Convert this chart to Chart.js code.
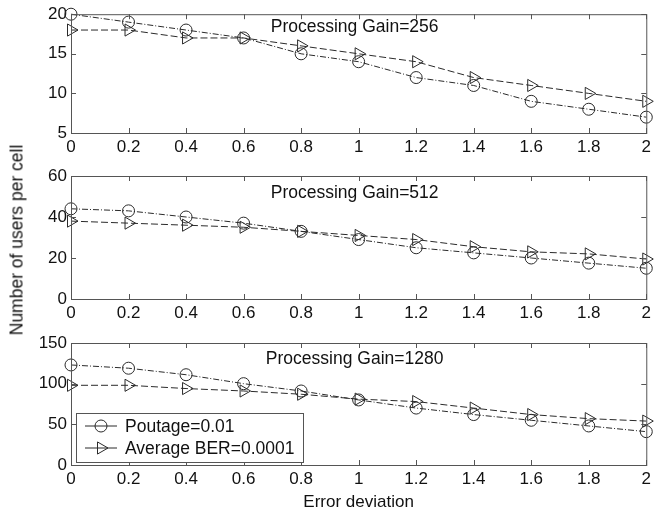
<!DOCTYPE html>
<html>
<head>
<meta charset="utf-8">
<script src="https://cdn.jsdelivr.net/npm/chart.js@4/dist/chart.umd.min.js"></script>
<style>
  body { margin: 0; background: #fff; }
  #wrap { position: relative; width: 655px; height: 515px; background: #fff; overflow: hidden; }
  .panel { position: absolute; left: 0; width: 655px; }
  #ytitle {
    position: absolute; left: 17px; top: 240px;
    transform: translate(-50%, -50%) rotate(-90deg);
    font: 17.5px "Liberation Sans", Arial, sans-serif; color: #111; white-space: nowrap;
  }
</style>
</head>
<body>
<div id="wrap">
  <div class="panel" style="top:0;height:160px"><canvas id="c1"></canvas></div>
  <div class="panel" style="top:160px;height:166px"><canvas id="c2"></canvas></div>
  <div class="panel" style="top:326px;height:189px"><canvas id="c3"></canvas></div>
  <div id="ytitle">Number of users per cell</div>
</div>
<script>
// error deviation (x axis)
const xLabels = ['0', '0.2', '0.4', '0.6', '0.8', '1', '1.2', '1.4', '1.6', '1.8', '2'];

// Processing Gain = 256
const pg256Poutage = [20, 19, 18, 17, 15, 14, 12, 11, 9, 8, 7];
const pg256Ber = [18, 18, 17, 17, 16, 15, 14, 12, 11, 10, 9];
// Processing Gain = 512
const pg512Poutage = [44, 43, 40, 37, 33, 29, 25, 22.5, 20, 17.5, 15];
const pg512Ber = [38, 37, 36, 35, 33, 31, 29, 25.5, 23, 22, 19.5];
// Processing Gain = 1280
const pg1280Poutage = [123, 119, 111, 100, 91, 80, 70, 62, 55, 48, 41];
const pg1280Ber = [98, 98, 94, 91, 87, 81, 78, 70, 62, 57, 54];

const seriesNames = ['Poutage=0.01', 'Average BER=0.0001'];
const panelTitles = ['Processing Gain=256', 'Processing Gain=512', 'Processing Gain=1280'];
const yRanges = [[5, 20, 5], [0, 60, 20], [0, 150, 50]];

const FONT = '"Liberation Sans", Arial, sans-serif';
const INK = '#2a2a2a';

// frame + inward ticks, like a matlab box
const framePlugin = {
  id: 'frame',
  afterDatasetsDraw(chart) {
    const ctx = chart.ctx, a = chart.chartArea;
    const xs = chart.scales.x, ys = chart.scales.y;
    ctx.save();
    ctx.strokeStyle = '#555';
    ctx.lineWidth = 1;
    ctx.strokeRect(a.left + 0.5, a.top + 0.5, a.right - a.left, a.bottom - a.top);
    ctx.beginPath();
    xs.ticks.forEach((t, i) => {
      const px = Math.round(xs.getPixelForTick(i)) + 0.5;
      ctx.moveTo(px, a.bottom); ctx.lineTo(px, a.bottom - 5);
      ctx.moveTo(px, a.top); ctx.lineTo(px, a.top + 5);
    });
    ys.ticks.forEach((t, i) => {
      const py = Math.round(ys.getPixelForTick(i)) + 0.5;
      ctx.moveTo(a.left, py); ctx.lineTo(a.left + 5, py);
      ctx.moveTo(a.right, py); ctx.lineTo(a.right - 5, py);
    });
    ctx.stroke();
    ctx.restore();
  },
  afterDraw(chart) {
    const opts = chart.options.plugins.frame;
    const ctx = chart.ctx, a = chart.chartArea;
    ctx.save();
    ctx.fillStyle = '#111';
    ctx.font = '17.5px ' + FONT;
    ctx.textAlign = 'center';
    ctx.textBaseline = 'middle';
    ctx.fillText(opts.title, (a.left + a.right) / 2 - 4, a.top + opts.titleOffset);

    if (opts.legend) {
      const bx = a.left + 5, by = a.top + 70, bw = 227, bh = 49;
      ctx.fillStyle = '#fff';
      ctx.fillRect(bx, by, bw, bh);
      ctx.strokeStyle = '#555';
      ctx.lineWidth = 1;
      ctx.strokeRect(bx + 0.5, by + 0.5, bw, bh);
      chart.data.datasets.forEach((ds, i) => {
        const cy = by + 13 + i * 22;
        ctx.strokeStyle = INK;
        ctx.lineWidth = 1;
        ctx.setLineDash([]);
        ctx.beginPath();
        ctx.moveTo(bx + 9, cy); ctx.lineTo(bx + 41, cy);
        ctx.stroke();
        ctx.fillStyle = 'rgba(0,0,0,0)';
        Chart.helpers.drawPoint(ctx, {
          pointStyle: ds.pointStyle, radius: ds.pointRadius,
          rotation: ds.pointRotation || 0, borderWidth: 1
        }, bx + 25, cy);
        ctx.fillStyle = '#111';
        ctx.textAlign = 'left';
        ctx.fillText(ds.label, bx + 49, cy + 1);
      });
    }
    ctx.restore();
  }
};

function makePanel(id, poutage, ber, idx, padTop, axisHeight, showXTitle, titleOffset) {
  const [ymin, ymax, ystep] = yRanges[idx];
  return new Chart(document.getElementById(id), {
    type: 'line',
    data: {
      labels: xLabels,
      datasets: [
        {
          label: seriesNames[0], data: poutage,
          borderColor: INK, borderWidth: 1, borderDash: [6, 2, 1, 2],
          pointStyle: 'circle', pointRadius: 6,
          pointBorderColor: INK, pointBackgroundColor: 'rgba(0,0,0,0)', pointBorderWidth: 1,
          fill: false, tension: 0
        },
        {
          label: seriesNames[1], data: ber,
          borderColor: INK, borderWidth: 1, borderDash: [7, 3],
          pointStyle: 'triangle', pointRadius: 7, pointRotation: 90,
          pointBorderColor: INK, pointBackgroundColor: 'rgba(0,0,0,0)', pointBorderWidth: 1,
          fill: false, tension: 0
        }
      ]
    },
    options: {
      responsive: true,
      maintainAspectRatio: false,
      animation: false,
      events: [],
      clip: false,
      layout: { padding: { top: padTop, right: 8, left: 0, bottom: 0 } },
      plugins: {
        legend: { display: false },
        tooltip: { enabled: false },
        frame: { title: panelTitles[idx], titleOffset: titleOffset, legend: idx === 2 }
      },
      scales: {
        x: {
          type: 'category',
          offset: false,
          grid: { display: false, drawTicks: false },
          border: { display: false },
          ticks: { color: '#111', font: { family: FONT, size: 17 }, padding: 4, maxRotation: 0, autoSkip: false },
          title: { display: showXTitle, text: 'Error deviation', color: '#111', font: { family: FONT, size: 17 }, padding: { top: 0, bottom: 2 } },
          afterFit(scale) { scale.height = axisHeight; }
        },
        y: {
          min: ymin, max: ymax,
          grid: { display: false, drawTicks: false },
          border: { display: false },
          ticks: { stepSize: ystep, color: '#111', font: { family: FONT, size: 17 }, padding: 4 },
          afterFit(scale) { scale.width = 71; }
        }
      }
    },
    plugins: [framePlugin]
  });
}

makePanel('c1', pg256Poutage, pg256Ber, 0, 11, 27, false, 13);
makePanel('c2', pg512Poutage, pg512Ber, 1, 16, 27, false, 17);
makePanel('c3', pg1280Poutage, pg1280Ber, 2, 17, 50, true, 16);
</script>
</body>
</html>
